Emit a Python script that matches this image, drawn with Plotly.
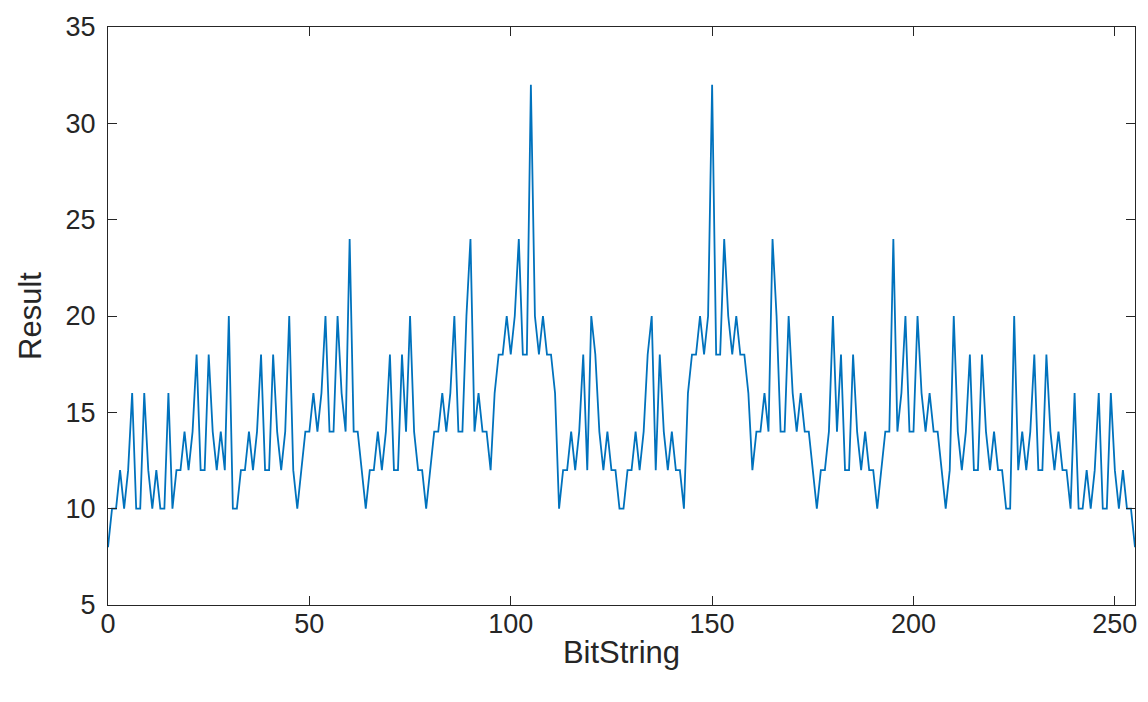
import plotly.graph_objects as go

# Result for every 8-bit string, grouped by the high nibble (16 values each)
result_000_015 = [8, 10, 10, 12, 10, 12, 16, 10, 10, 16, 12, 10, 12, 10, 10, 16]
result_016_031 = [10, 12, 12, 14, 12, 14, 18, 12, 12, 18, 14, 12, 14, 12, 20, 10]
result_032_047 = [10, 12, 12, 14, 12, 14, 18, 12, 12, 18, 14, 12, 14, 20, 12, 10]
result_048_063 = [12, 14, 14, 16, 14, 16, 20, 14, 14, 20, 16, 14, 24, 14, 14, 12]
result_064_079 = [10, 12, 12, 14, 12, 14, 18, 12, 12, 18, 14, 20, 14, 12, 12, 10]
result_080_095 = [12, 14, 14, 16, 14, 16, 20, 14, 14, 20, 24, 14, 16, 14, 14, 12]
result_096_111 = [16, 18, 18, 20, 18, 20, 24, 18, 18, 32, 20, 18, 20, 18, 18, 16]
result_112_127 = [10, 12, 12, 14, 12, 14, 18, 12, 20, 18, 14, 12, 14, 12, 12, 10]
result_128_143 = [10, 12, 12, 14, 12, 14, 18, 20, 12, 18, 14, 12, 14, 12, 12, 10]
result_144_159 = [16, 18, 18, 20, 18, 20, 32, 18, 18, 24, 20, 18, 20, 18, 18, 16]
result_160_175 = [12, 14, 14, 16, 14, 24, 20, 14, 14, 20, 16, 14, 16, 14, 14, 12]
result_176_191 = [10, 12, 12, 14, 20, 14, 18, 12, 12, 18, 14, 12, 14, 12, 12, 10]
result_192_207 = [12, 14, 14, 24, 14, 16, 20, 14, 14, 20, 16, 14, 16, 14, 14, 12]
result_208_223 = [10, 12, 20, 14, 12, 14, 18, 12, 12, 18, 14, 12, 14, 12, 12, 10]
result_224_239 = [10, 20, 12, 14, 12, 14, 18, 12, 12, 18, 14, 12, 14, 12, 12, 10]
result_240_255 = [16, 10, 10, 12, 10, 12, 16, 10, 10, 16, 12, 10, 12, 10, 10, 8]

result = (result_000_015 + result_016_031 + result_032_047 + result_048_063
          + result_064_079 + result_080_095 + result_096_111 + result_112_127
          + result_128_143 + result_144_159 + result_160_175 + result_176_191
          + result_192_207 + result_208_223 + result_224_239 + result_240_255)
bitstring = list(range(len(result)))

x_ticks = [0, 50, 100, 150, 200, 250]
y_ticks = [5, 10, 15, 20, 25, 30, 35]

axis_color = "#262626"
font_family = "Liberation Sans, Arial, Helvetica, sans-serif"

fig = go.Figure(
    go.Scatter(
        x=bitstring,
        y=result,
        mode="lines",
        line=dict(color="#0072BD", width=1.8),
        hoverinfo="x+y",
    )
)

common_axis = dict(
    showgrid=False,
    zeroline=False,
    showline=True,
    linecolor=axis_color,
    linewidth=1,
    mirror="allticks",
    ticks="inside",
    ticklen=9,
    tickwidth=1,
    tickcolor=axis_color,
    tickfont=dict(family=font_family, size=27, color=axis_color),
)

fig.update_layout(
    width=1148,
    height=702,
    autosize=False,
    paper_bgcolor="white",
    plot_bgcolor="white",
    showlegend=False,
    margin=dict(l=108, r=13, t=27, b=97),
    xaxis=dict(
        range=[0, 255],
        tickvals=x_ticks,
        ticktext=[str(v) for v in x_ticks],
        ticklabelstandoff=-5,
        title=dict(text="BitString", standoff=2,
                   font=dict(family=font_family, size=31, color=axis_color)),
        **common_axis,
    ),
    yaxis=dict(
        range=[5, 35],
        tickvals=y_ticks,
        ticktext=[str(v) for v in y_ticks],
        ticklabelstandoff=6,
        title=dict(text="Result", standoff=14,
                   font=dict(family=font_family, size=31, color=axis_color)),
        **common_axis,
    ),
)

fig.write_html("out.html", config={"displayModeBar": False})
